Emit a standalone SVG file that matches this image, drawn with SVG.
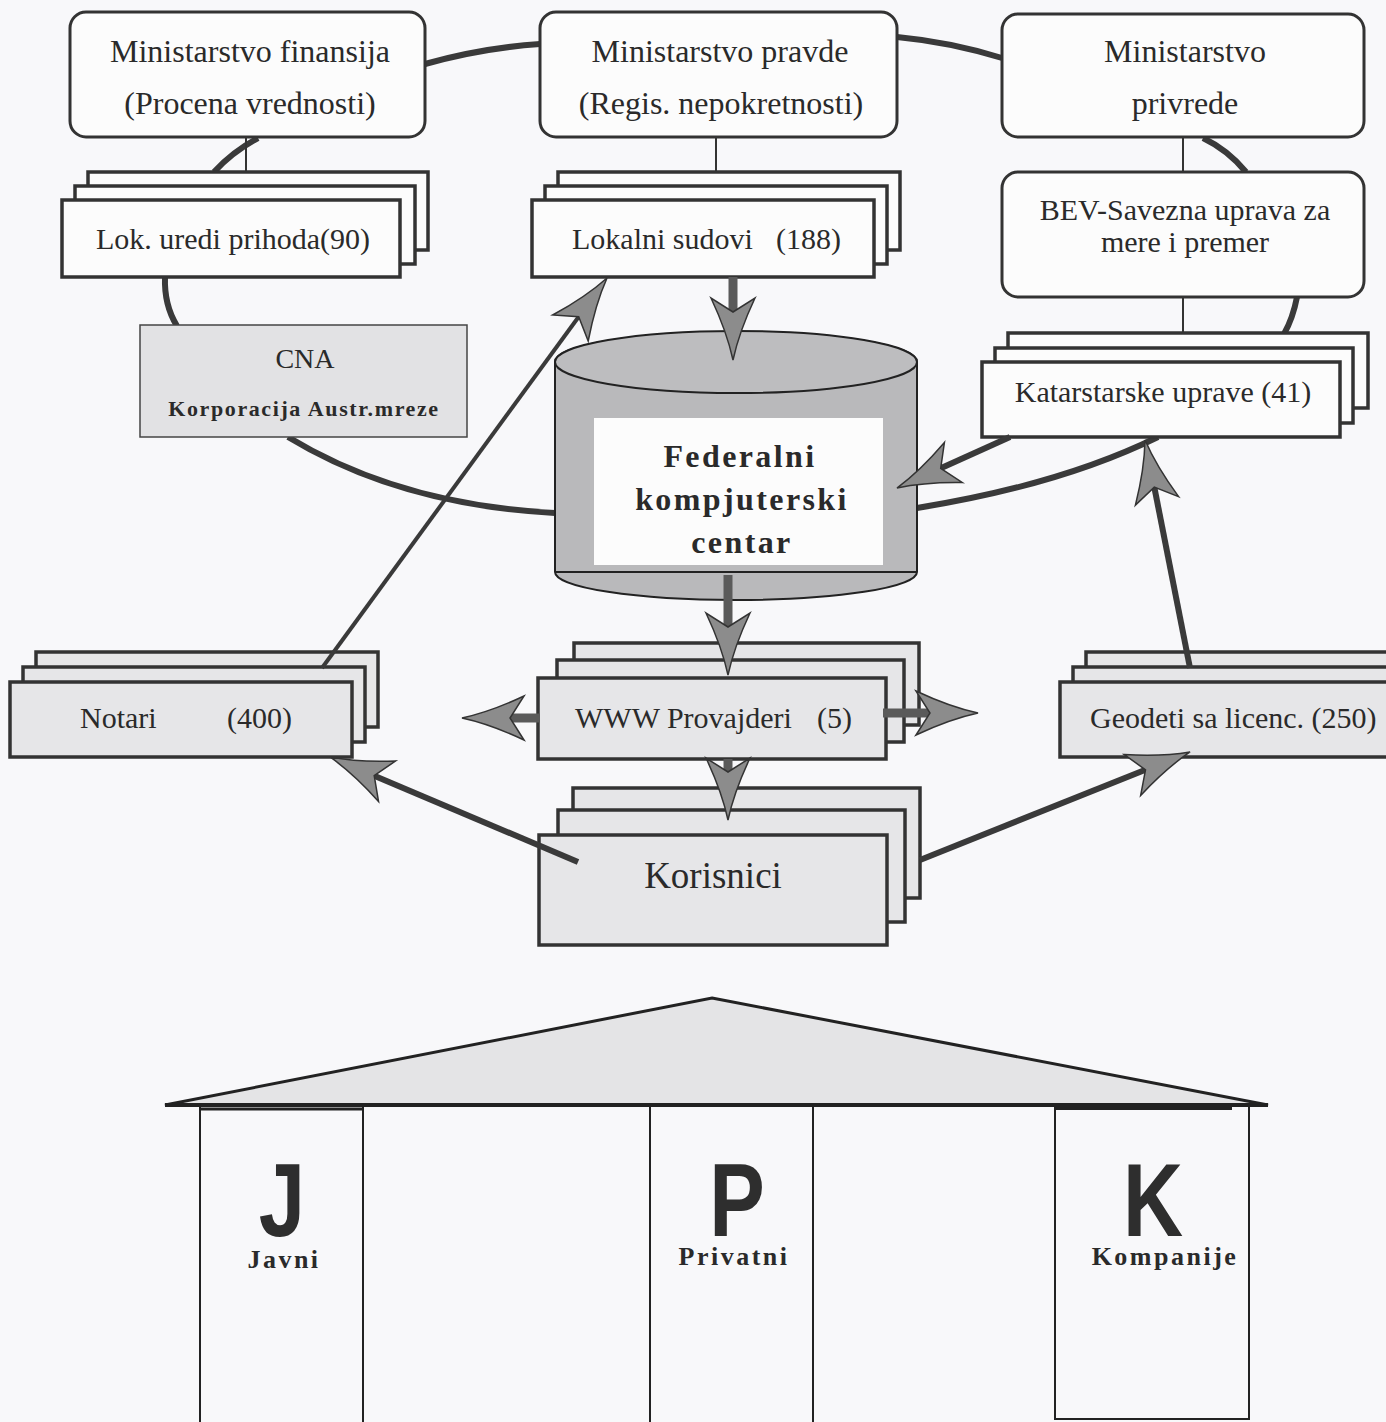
<svg xmlns="http://www.w3.org/2000/svg" width="1386" height="1422" viewBox="0 0 1386 1422">
<defs>
<style>
.bg{fill:#f8f8fa}
.mbox{fill:#fcfcfc;stroke:#333;stroke-width:3}
.card{fill:#fcfcfc;stroke:#333;stroke-width:3.5}
.gcard{fill:#e6e6e8;stroke:#333;stroke-width:3.5}
.t{font-family:"Liberation Serif","Times New Roman",serif;fill:#2a2a2a}
.arc{fill:none;stroke:#3a3a3a;stroke-width:6}
.thin{fill:none;stroke:#333;stroke-width:2}
.sg{fill:none;stroke:#5a5a5a;stroke-width:9}
.sd{fill:none;stroke:#3a3a3a;stroke-width:6}
.st{fill:none;stroke:#3a3a3a;stroke-width:4}
.big{font-family:"Liberation Sans",Arial,sans-serif;font-weight:bold;font-size:104px;fill:#2e2e2e;text-anchor:middle}
.lbl{font-family:"Liberation Serif","Times New Roman",serif;font-weight:bold;font-size:26px;letter-spacing:2.5px;fill:#2a2a2a;text-anchor:middle}
.col{fill:none;stroke:#222;stroke-width:2}
</style>
<marker id="ah" markerUnits="userSpaceOnUse" markerWidth="80" markerHeight="60" refX="0" refY="0" orient="auto" overflow="visible">
<path d="M-14,-22 Q20,-6 48,0 Q20,6 -14,22 L0,0 Z" fill="#8c8c8c" stroke="#333" stroke-width="1.5"/>
</marker>
</defs>
<rect class="bg" x="0" y="0" width="1386" height="1422"/>

<g id="connectors">
<path class="arc" d="M425,64 Q482,48 540,44"/>
<path class="arc" d="M897,37 Q950,42 1002,58"/>
<path class="arc" d="M258,138 Q232,152 214,172"/>
<path class="arc" d="M165,277 Q164,305 177,326"/>
<path class="arc" d="M288,437 Q400,505 555,513"/>
<path class="arc" d="M1203,138 Q1228,150 1246,172"/>
<path class="arc" d="M1297,297 Q1293,318 1284,334"/>
<path class="arc" d="M917,508 Q1060,485 1158,437"/>
<line class="thin" x1="246" y1="137" x2="246" y2="172"/>
<line class="thin" x1="716" y1="137" x2="716" y2="172"/>
<line class="thin" x1="1183" y1="137" x2="1183" y2="172"/>
<line class="thin" x1="1183" y1="297" x2="1183" y2="333"/>
</g>

<g id="min-fin">
<rect class="mbox" x="70" y="12" width="355" height="125" rx="16"/>
<text class="t" x="250" y="62" font-size="32" text-anchor="middle">Ministarstvo finansija</text>
<text class="t" x="250" y="114" font-size="32" text-anchor="middle">(Procena vrednosti)</text>
</g>
<g id="min-pravde">
<rect class="mbox" x="540" y="12" width="357" height="125" rx="16"/>
<text class="t" x="720" y="62" font-size="32" text-anchor="middle">Ministarstvo pravde</text>
<text class="t" x="721" y="114" font-size="32" text-anchor="middle">(Regis. nepokretnosti)</text>
</g>
<g id="min-privrede">
<rect class="mbox" x="1002" y="14" width="362" height="123" rx="16"/>
<text class="t" x="1185" y="62" font-size="32" text-anchor="middle">Ministarstvo</text>
<text class="t" x="1185" y="114" font-size="32" text-anchor="middle">privrede</text>
</g>
<g id="bev">
<rect class="mbox" x="1002" y="172" width="362" height="125" rx="16"/>
<text class="t" x="1185" y="220" font-size="30" text-anchor="middle">BEV-Savezna uprava za</text>
<text class="t" x="1185" y="252" font-size="30" text-anchor="middle">mere i premer</text>
</g>

<g id="lok-uredi">
<rect class="card" x="88" y="172" width="340" height="78"/>
<rect class="card" x="75" y="186" width="340" height="78"/>
<rect class="card" x="62" y="200" width="338" height="77"/>
<text class="t" x="233" y="249" font-size="30" text-anchor="middle">Lok. uredi prihoda(90)</text>
</g>
<g id="lokalni-sudovi">
<rect class="card" x="558" y="172" width="342" height="78"/>
<rect class="card" x="545" y="186" width="342" height="78"/>
<rect class="card" x="532" y="200" width="342" height="77"/>
<text class="t" x="572" y="249" font-size="30">Lokalni sudovi</text>
<text class="t" x="776" y="249" font-size="30">(188)</text>
</g>
<g id="katastarske">
<rect class="card" x="1008" y="333" width="360" height="75"/>
<rect class="card" x="995" y="348" width="358" height="75"/>
<rect class="card" x="982" y="362" width="358" height="75"/>
<text class="t" x="1163" y="402" font-size="30" text-anchor="middle">Katarstarske uprave (41)</text>
</g>

<g id="cna">
<rect x="140" y="325" width="327" height="112" fill="#e2e2e4" stroke="#444" stroke-width="1.5"/>
<text class="t" x="305" y="368" font-size="28" text-anchor="middle">CNA</text>
<text class="t" x="304" y="416" font-size="22" font-weight="bold" letter-spacing="1.6" text-anchor="middle">Korporacija Austr.mreze</text>
</g>

<g id="fkc">
<path d="M555,362 L555,572 A181,28 0 0 0 917,572 L917,362 A181,30 0 0 0 555,362 Z" fill="#b9b9bb" stroke="#222" stroke-width="2"/>
<ellipse cx="736" cy="362" rx="181" ry="31" fill="#bdbdbf" stroke="#222" stroke-width="2"/>
<line x1="555" y1="572" x2="917" y2="572" stroke="#222" stroke-width="2"/>
<rect x="594" y="418" width="289" height="147" fill="#fcfcfc"/>
<text class="t" x="740" y="467" font-size="32" font-weight="bold" letter-spacing="2.4" text-anchor="middle">Federalni</text>
<text class="t" x="742" y="510" font-size="32" font-weight="bold" letter-spacing="2.4" text-anchor="middle">kompjuterski</text>
<text class="t" x="742" y="553" font-size="32" font-weight="bold" letter-spacing="2.4" text-anchor="middle">centar</text>
</g>

<g id="notari">
<rect class="gcard" x="36" y="652" width="342" height="75"/>
<rect class="gcard" x="23" y="667" width="342" height="75"/>
<rect class="gcard" x="10" y="682" width="342" height="75"/>
<text class="t" x="80" y="728" font-size="30">Notari</text>
<text class="t" x="227" y="728" font-size="30">(400)</text>
</g>
<g id="www">
<rect class="gcard" x="574" y="643" width="345" height="82"/>
<rect class="gcard" x="557" y="660" width="347" height="82"/>
<rect class="gcard" x="538" y="678" width="348" height="81"/>
<text class="t" x="575" y="728" font-size="30">WWW Provajderi</text>
<text class="t" x="817" y="728" font-size="30">(5)</text>
</g>
<g id="geodeti">
<rect class="gcard" x="1086" y="652" width="400" height="75"/>
<rect class="gcard" x="1073" y="667" width="400" height="75"/>
<rect class="gcard" x="1060" y="682" width="400" height="75"/>
<text class="t" x="1090" y="728" font-size="30">Geodeti sa licenc. (250)</text>
</g>
<g id="korisnici">
<rect class="gcard" x="573" y="788" width="347" height="110"/>
<rect class="gcard" x="558" y="810" width="347" height="112"/>
<rect class="gcard" x="539" y="835" width="348" height="110"/>
<text class="t" x="713" y="888" font-size="37" text-anchor="middle">Korisnici</text>
</g>

<g id="arrows">
<line class="sg" x1="733" y1="277" x2="733" y2="312" marker-end="url(#ah)"/>
<line class="sg" x1="728" y1="575" x2="728" y2="627" marker-end="url(#ah)"/>
<line class="sg" x1="728" y1="759" x2="728" y2="772" marker-end="url(#ah)"/>
<line class="sg" x1="540" y1="718" x2="510" y2="718" marker-end="url(#ah)"/>
<line class="sg" x1="883" y1="713" x2="930" y2="713" marker-end="url(#ah)"/>
<line class="st" x1="322" y1="668" x2="578.7" y2="316.7" marker-end="url(#ah)"/>
<line class="sd" x1="1010" y1="437" x2="940.7" y2="468.3" marker-end="url(#ah)"/>
<line class="sd" x1="1190" y1="668" x2="1154.3" y2="487.1" marker-end="url(#ah)"/>
<line class="sd" x1="578" y1="862" x2="374.2" y2="775.7" marker-end="url(#ah)"/>
<line class="sd" x1="920" y1="860" x2="1145.5" y2="769.8" marker-end="url(#ah)"/>
</g>

<g id="house">
<polygon points="712,998 1268,1105 165,1105" fill="#e4e4e6" stroke="#222" stroke-width="3" stroke-linejoin="miter"/>
<line x1="165" y1="1105" x2="1268" y2="1105" stroke="#222" stroke-width="4"/>
<line class="col" x1="200" y1="1107" x2="200" y2="1422"/>
<line class="col" x1="363" y1="1107" x2="363" y2="1422"/>
<line x1="200" y1="1109" x2="363" y2="1109" stroke="#222" stroke-width="3"/>
<line class="col" x1="650" y1="1105" x2="650" y2="1422"/>
<line class="col" x1="813" y1="1105" x2="813" y2="1422"/>
<path class="col" d="M1055,1107 L1055,1419 L1249,1419 L1249,1107"/>
<line x1="1055" y1="1108" x2="1232" y2="1108" stroke="#222" stroke-width="4"/>
<text class="big" transform="translate(282,1236) scale(0.8,1)">J</text>
<text class="lbl" x="284" y="1268">Javni</text>
<text class="big" transform="translate(737,1236) scale(0.8,1)">P</text>
<text class="lbl" x="734" y="1265">Privatni</text>
<text class="big" transform="translate(1153,1236) scale(0.8,1)">K</text>
<text class="lbl" x="1165" y="1265">Kompanije</text>
</g>
</svg>
